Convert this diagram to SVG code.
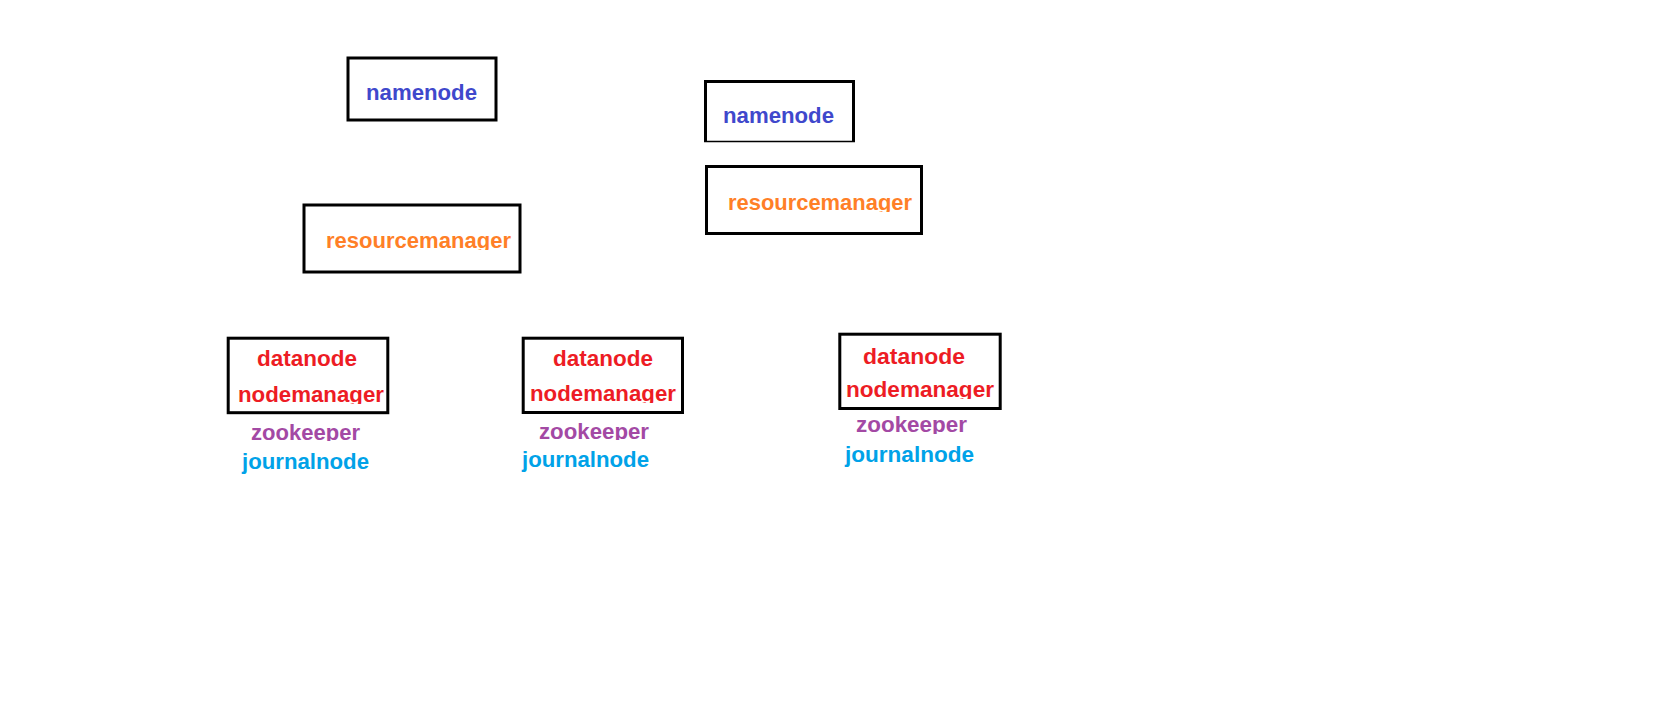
<svg xmlns="http://www.w3.org/2000/svg" width="1673" height="701" viewBox="0 0 1673 701">
<style>
.box{fill:none;stroke:#000;stroke-width:3}
text{font-family:"Liberation Sans",Arial,sans-serif;font-weight:bold;font-size:22px}
.nn{fill:#3f48cc}.rm{fill:#ff7f27}.dn{fill:#ed1c24}.zk{fill:#a349a4}.jn{fill:#00a2e8}
</style>
<defs>
<clipPath id="c1" clipPathUnits="userSpaceOnUse"><rect x="300" y="200" width="230" height="50"/></clipPath>
<clipPath id="c2" clipPathUnits="userSpaceOnUse"><rect x="700" y="160" width="230" height="52"/></clipPath>
<clipPath id="c3" clipPathUnits="userSpaceOnUse"><rect x="220" y="380" width="180" height="24"/></clipPath>
<clipPath id="c4" clipPathUnits="userSpaceOnUse"><rect x="220" y="415" width="180" height="26"/></clipPath>
<clipPath id="c5" clipPathUnits="userSpaceOnUse"><rect x="515" y="380" width="180" height="23"/></clipPath>
<clipPath id="c6" clipPathUnits="userSpaceOnUse"><rect x="515" y="415" width="180" height="25"/></clipPath>
<clipPath id="c7" clipPathUnits="userSpaceOnUse"><rect x="835" y="375" width="180" height="24"/></clipPath>
<clipPath id="c8" clipPathUnits="userSpaceOnUse"><rect x="835" y="410" width="180" height="24"/></clipPath>
</defs>
<rect width="1673" height="701" fill="#fff"/>
<g id="connectors"/>
<g id="namenode1">
<rect class="box" x="348" y="58" width="148" height="62"/>
<text class="nn" x="366" y="100" textLength="111" lengthAdjust="spacingAndGlyphs">namenode</text>
</g>
<g id="resourcemanager1">
<rect class="box" x="304" y="205" width="216" height="67"/>
<text class="rm" x="326" y="248" textLength="185" lengthAdjust="spacingAndGlyphs" clip-path="url(#c1)">resourcemanager</text>
</g>
<g id="namenode2">
<path d="M705.5 142 V81.5 H853.5 V142" fill="none" stroke="#000" stroke-width="3"/>
<line x1="704" y1="141.5" x2="855" y2="141.5" stroke="#000" stroke-width="1.5"/>
<text class="nn" x="723" y="122.5" textLength="111" lengthAdjust="spacingAndGlyphs">namenode</text>
</g>
<g id="resourcemanager2">
<rect class="box" x="706.5" y="166.5" width="215" height="67"/>
<text class="rm" x="728" y="210" textLength="184" lengthAdjust="spacingAndGlyphs" clip-path="url(#c2)">resourcemanager</text>
</g>
<g id="worker1">
<rect class="box" x="228.2" y="338.2" width="159.6" height="74.5"/>
<text class="dn" x="257" y="366" textLength="100" lengthAdjust="spacingAndGlyphs">datanode</text>
<text class="dn" x="238" y="402" textLength="146" lengthAdjust="spacingAndGlyphs" clip-path="url(#c3)">nodemanager</text>
<text class="zk" x="251" y="440" textLength="109" lengthAdjust="spacingAndGlyphs" clip-path="url(#c4)">zookeeper</text>
<text class="jn" x="242" y="469" textLength="127" lengthAdjust="spacingAndGlyphs">journalnode</text>
</g>
<g id="worker2">
<rect class="box" x="523.2" y="338.2" width="159.3" height="74.3"/>
<text class="dn" x="553" y="366" textLength="100" lengthAdjust="spacingAndGlyphs">datanode</text>
<text class="dn" x="530" y="401" textLength="146" lengthAdjust="spacingAndGlyphs" clip-path="url(#c5)">nodemanager</text>
<text class="zk" x="539" y="439" textLength="110" lengthAdjust="spacingAndGlyphs" clip-path="url(#c6)">zookeeper</text>
<text class="jn" x="522" y="467" textLength="127" lengthAdjust="spacingAndGlyphs">journalnode</text>
</g>
<g id="worker3">
<rect class="box" x="839.8" y="334.2" width="160.4" height="74.3"/>
<text class="dn" x="863" y="364" textLength="102" lengthAdjust="spacingAndGlyphs">datanode</text>
<text class="dn" x="846" y="397" textLength="148" lengthAdjust="spacingAndGlyphs" clip-path="url(#c7)">nodemanager</text>
<text class="zk" x="856" y="432" textLength="111" lengthAdjust="spacingAndGlyphs" clip-path="url(#c8)">zookeeper</text>
<text class="jn" x="845" y="462" textLength="129" lengthAdjust="spacingAndGlyphs">journalnode</text>
</g>
</svg>
